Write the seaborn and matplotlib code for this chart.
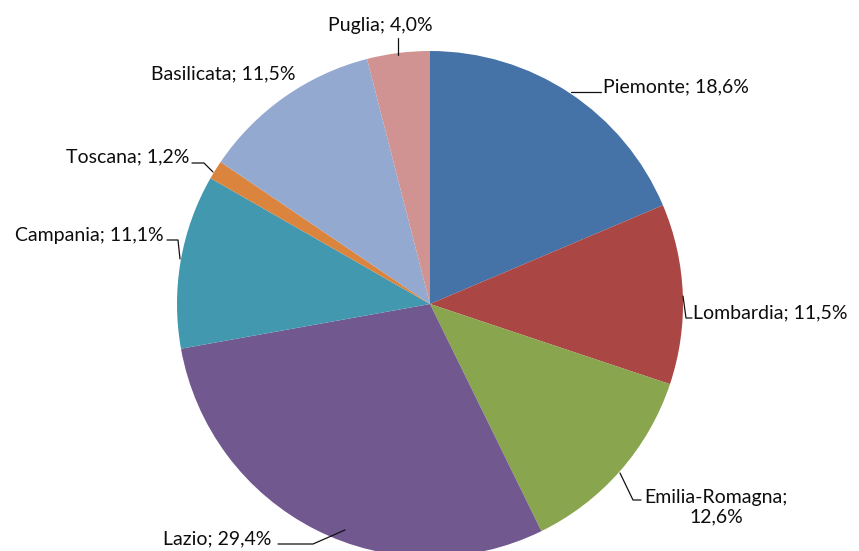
import matplotlib
matplotlib.use("Agg")
import matplotlib.pyplot as plt
import seaborn as sns

regions = ["Piemonte", "Lombardia", "Emilia-Romagna", "Lazio",
           "Campania", "Toscana", "Basilicata", "Puglia"]
shares = [18.6, 11.5, 12.6, 29.4, 11.1, 1.2, 11.5, 4.0]
colors = ["#4572A7", "#AA4643", "#89A54E", "#71588F",
          "#4198AF", "#DB843D", "#93A9CF", "#D19392"]

sns.set_theme(style="white")
plt.rcParams["font.family"] = ["Lato", "DejaVu Sans"]

W, H = 859, 551
CX, CY, R = 430, 304, 253

fig = plt.figure(figsize=(W / 100, H / 100), dpi=100)
ax = fig.add_axes([0, 0, 1, 1])


def px(x, y):
    return (x - CX) / R, (CY - y) / R


ax.pie(shares, colors=colors, startangle=90, counterclock=False,
       radius=1.0, wedgeprops=dict(linewidth=0), frame=False)
ax.set_xlim(-CX / R, (W - CX) / R)
ax.set_ylim((CY - H) / R, CY / R)
ax.set_aspect("auto")
ax.axis("off")

# label text placement (pixels) and leader-line paths (pixels)
layout = {
    "Piemonte":       ((603, 87), "left", [(571, 92), (601, 92)]),
    "Lombardia":      ((693, 313), "left", [(683, 296), (686, 318), (692, 318)]),
    "Emilia-Romagna": ((716, 507), "center", [(620, 473), (633, 500), (641, 500)]),
    "Lazio":          ((217, 539), "center", [(345, 530), (313, 544), (278, 544)]),
    "Campania":       ((164, 235), "right", [(180, 259), (178, 240), (167, 240)]),
    "Toscana":        ((189, 157), "right", [(213, 172), (204, 163), (192, 163)]),
    "Basilicata":     ((223, 74), "center", []),
    "Puglia":         ((380, 26), "center", [(398, 55), (398, 38)]),
}

for name, val in zip(regions, shares):
    (tx, ty), ha, path = layout[name]
    pct = f"{val:.1f}".replace(".", ",") + "%"
    if name == "Emilia-Romagna":
        label = f"{name};\n{pct}"
    else:
        label = f"{name}; {pct}"
    x, y = px(tx, ty)
    ax.text(x, y, label, ha=ha, va="center", fontsize=14,
            color="#0d0d0d", linespacing=1.2)
    if path:
        pts = [px(a, b) for a, b in path]
        ax.plot([p[0] for p in pts], [p[1] for p in pts],
                color="#111111", linewidth=0.9, clip_on=False)

fig.savefig("out.png", dpi=100, facecolor="white")
